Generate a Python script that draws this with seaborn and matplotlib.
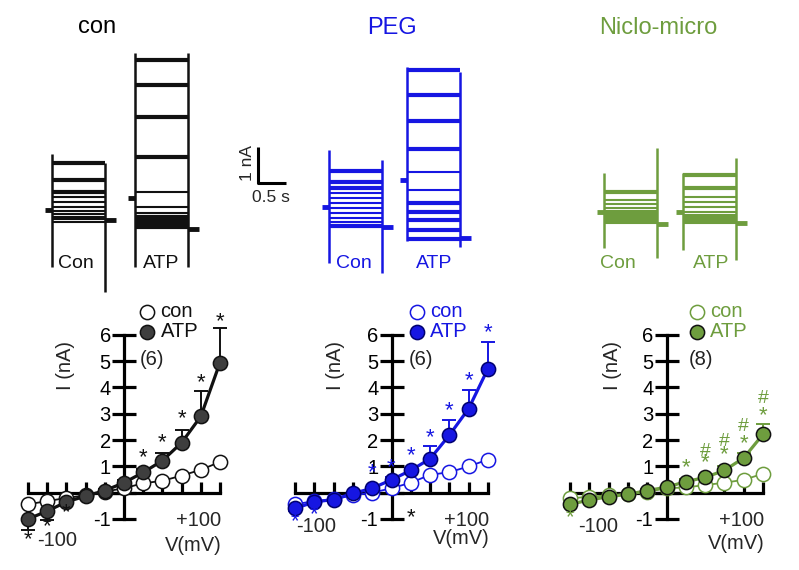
import numpy as np
import pandas as pd
import matplotlib
matplotlib.use('Agg')
import matplotlib.pyplot as plt
import seaborn as sns

sns.set_theme(style='white')
plt.rcParams['font.family'] = ['Liberation Sans', 'DejaVu Sans']
plt.rcParams['axes.unicode_minus'] = False

W, H = 799, 570
BLACK = '#111111'
BLUE = '#1616e2'
GREEN = '#6e9d3e'
DARK = '#3e3e3e'

# I-V data (mV, nA)
volts = [-100, -80, -60, -40, -20, 0, 20, 40, 60, 80, 100]

con_con = [-0.44, -0.32, -0.2, -0.1, 0.04, 0.17, 0.36, 0.45, 0.65, 0.87, 1.17]
con_atp = [-1.0, -0.7, -0.35, -0.13, 0.08, 0.38, 0.77, 1.22, 1.9, 2.9, 4.95]
con_err = [0.4, 0.35, 0.1, 0.05, 0.05, 0.1, 0.15, 0.3, 0.5, 0.95, 1.3]

peg_con = [-0.44, -0.32, -0.25, -0.1, 0.0, 0.17, 0.38, 0.68, 0.78, 1.0, 1.26]
peg_atp = [-0.6, -0.35, -0.26, -0.03, 0.17, 0.49, 0.85, 1.29, 2.19, 3.2, 4.72]
peg_err = [0.1, 0.1, 0.05, 0.05, 0.05, 0.1, 0.1, 0.48, 0.58, 0.7, 1.0]

nic_con = [-0.22, -0.15, -0.1, -0.05, 0.03, 0.17, 0.2, 0.29, 0.38, 0.49, 0.72]
nic_atp = [-0.44, -0.28, -0.15, -0.06, 0.08, 0.21, 0.42, 0.58, 0.85, 1.32, 2.22]
nic_err = [0.1, 0.05, 0.05, 0.05, 0.05, 0.05, 0.1, 0.1, 0.15, 0.2, 0.4]

# significance marks: voltage, y position, symbol
con_sig_x = [100, 80, 60, 40, 20, -60, -80, -100]
con_sig_y = [6.5, 4.2, 2.8, 1.9, 1.35, -0.77, -1.3, -1.8]
con_sig_t = ['*'] * 8
con_sig_c = [BLACK] * 8

peg_sig_x = [100, 80, 60, 40, 20, 0, -20, -80, -100, 20]
peg_sig_y = [6.07, 4.27, 3.1, 2.1, 1.4, 0.96, 0.77, -0.85, -1.1, -0.96]
peg_sig_t = ['*'] * 10
peg_sig_c = [BLUE] * 9 + [BLACK]

nic_sig_x = [100, 100, 80, 80, 60, 60, 40, 40, 20, -100]
nic_sig_y = [2.92, 3.6, 1.88, 2.5, 1.46, 1.96, 1.15, 1.58, 0.96, -0.96]
nic_sig_t = ['*', '#', '*', '#', '*', '#', '*', '#', '*', '*']
nic_sig_c = [GREEN] * 10

# current traces: steady levels (nA, relative to holding)
p1_con_lv = [1.31, 0.83, 0.5, 0.36, 0.22, 0.08, -0.03, -0.11, -0.19, -0.25, -0.33]
p1_atp_lv = [3.83, 3.14, 2.25, 1.14, 0.17, -0.25, -0.42, -0.53, -0.61, -0.69, -0.81]
p2_con_lv = [1.0, 0.69, 0.53, 0.39, 0.25, 0.11, -0.03, -0.17, -0.31, -0.42, -0.53]
p2_atp_lv = [3.06, 2.36, 1.64, 0.86, 0.22, -0.28, -0.64, -0.89, -1.11, -1.39, -1.64]
p3_con_lv = [0.56, 0.33, 0.22, 0.11, 0.03, -0.03, -0.08, -0.14, -0.19, -0.25, -0.31]
p3_atp_lv = [1.03, 0.67, 0.42, 0.28, 0.14, 0.0, -0.08, -0.14, -0.19, -0.25, -0.31]
# capacitive transients (lo, hi) at step on / off, and tail level
p1_con_tr = [(-1.58, 1.56), (-2.28, 1.31), -0.28]
p1_atp_tr = [(-1.92, 4.03), (-1.92, 4.03), -0.86]
p2_con_tr = [(-1.56, 1.58), (-1.83, 1.31), -0.56]
p2_atp_tr = [(-1.69, 3.14), (-1.86, 3.0), -1.61]
p3_con_tr = [(-1.0, 1.08), (-1.28, 1.78), -0.33]
p3_atp_tr = [(-1.06, 1.08), (-1.33, 1.5), -0.31]
step_dur = 0.95

fig = plt.figure(figsize=(W / 100, H / 100), dpi=100)


def px_axes(x0, y0, sx, sy, xlim, ylim):
    left = x0 + xlim[0] * sx
    width = (xlim[1] - xlim[0]) * sx
    top = y0 - ylim[1] * sy
    height = (ylim[1] - ylim[0]) * sy
    ax = fig.add_axes([left / W, 1 - (top + height) / H, width / W, height / H])
    ax.set_xlim(xlim)
    ax.set_ylim(ylim)
    ax.patch.set_alpha(0)
    return ax


def ftext(x, y, s, **kw):
    fig.text(x / W, 1 - y / H, s, ha='center', va='center', **kw)


TSX, TSY = 56, 36


def trace_block(x0, y0, levels, tr, color):
    ax = px_axes(x0, y0, TSX, TSY, (-0.5, 1.5), (-3, 5))
    ax.axis('off')
    lw = [3.0 if abs(v) > 0.45 else 1.5 for v in levels]
    ax.hlines(levels, 0, step_dur, color=color, lw=lw)
    ax.hlines(0, -0.13, 0, color=color, lw=3.5)
    ax.hlines(tr[2], step_dur, step_dur + 0.2, color=color, lw=3.5)
    ax.vlines(0, tr[0][0], tr[0][1], color=color, lw=1.8)
    ax.vlines(step_dur, tr[1][0], tr[1][1], color=color, lw=1.8)
    return ax


trace_block(52, 210, p1_con_lv, p1_con_tr, BLACK)
trace_block(135, 198, p1_atp_lv, p1_atp_tr, BLACK)
trace_block(329, 207, p2_con_lv, p2_con_tr, BLUE)
trace_block(407, 180, p2_atp_lv, p2_atp_tr, BLUE)
trace_block(604, 212, p3_con_lv, p3_con_tr, GREEN)
trace_block(683, 212, p3_atp_lv, p3_atp_tr, GREEN)

# scale bar
sb = px_axes(258, 183, TSX, TSY, (-0.5, 1.0), (-1, 2))
sb.axis('off')
sb.plot([0, 0, 0.5], [1, 0, 0], color='black', lw=2.2, solid_capstyle='butt')
ftext(247, 163, '1 nA', fontsize=12.5, rotation=90)
ftext(271, 197, '0.5 s', fontsize=12.5)

ftext(97, 27, 'con', fontsize=17, color='black')
ftext(392, 28, 'PEG', fontsize=17, color=BLUE)
ftext(658, 28, 'Niclo-micro', fontsize=17, color=GREEN)

for x, y, s, c in [(76, 263, 'Con', BLACK), (161, 264, 'ATP', BLACK),
                   (354, 263, 'Con', BLUE), (434, 263, 'ATP', BLUE),
                   (618, 263, 'Con', GREEN), (711, 263, 'ATP', GREEN)]:
    ftext(x, y, s, fontsize=14, color=c)


def iv_panel(x0, sx, con, atp, err, col, fill, edge, lcol, n, sigs, ylab_x, lo_lab):
    ax = px_axes(x0, 492.7, sx, 26.3, (-118, 118), (-2.4, 7.4))
    sns.lineplot(x=volts, y=con, color=lcol, lw=1.3, ax=ax, zorder=3)
    sns.lineplot(x=volts, y=atp, color=lcol, lw=2.3, ax=ax, zorder=3)
    up = [e if a >= 0 else 0 for a, e in zip(atp, err)]
    dn = [e if a < 0 else 0 for a, e in zip(atp, err)]
    ax.errorbar(volts, atp, yerr=[dn, up], fmt='none', ecolor=lcol,
                elinewidth=1.4, capsize=5, capthick=1.4, zorder=3)
    sns.scatterplot(x=volts, y=con, s=105, color='white', edgecolor=col,
                    linewidth=1.1, ax=ax, zorder=4, label='con')
    sns.scatterplot(x=volts, y=atp, s=105, color=fill, edgecolor=edge,
                    linewidth=1.1, ax=ax, zorder=5, label='ATP')
    for sp in ['top', 'right']:
        ax.spines[sp].set_visible(False)
    ax.spines['left'].set_position(('data', 0))
    ax.spines['bottom'].set_position(('data', 0))
    ax.spines['left'].set_bounds(-1, 6)
    ax.spines['bottom'].set_bounds(-100, 100)
    for sp in ['left', 'bottom']:
        ax.spines[sp].set_linewidth(2.3)
        ax.spines[sp].set_color('black')
        ax.spines[sp].set_zorder(2)
    ax.set_yticks(range(-1, 7))
    ax.set_xticks(range(-100, 101, 20))
    ax.tick_params(axis='y', direction='inout', length=17, width=2.3,
                   labelsize=14.5, pad=1, left=True, colors='black')
    ax.tick_params(axis='x', direction='in', length=8, width=2.3,
                   labelbottom=False, bottom=True, colors='black')
    ax.set_axisbelow(True)
    ax.set_xlabel('')
    ax.set_ylabel('')
    ax.legend(loc='upper left', frameon=False, fontsize=14.5,
              handlelength=0.8, handletextpad=0.25, borderpad=0,
              labelspacing=0.05, borderaxespad=0, labelcolor=lcol,
              bbox_to_anchor=(n[1], 7.25), bbox_transform=ax.transData)
    ax.text(n[1] + 13, 5.05, '(%d)' % n[0], fontsize=14.5, ha='center', va='center',
            color='#222222')
    for x, y, s, c in zip(*sigs):
        ax.text(x, y, s, fontsize=16 if s == '*' else 14, ha='center',
                va='center', color=c, zorder=6)
    ax.text(ylab_x, 4.85, 'I (nA)', rotation=90, fontsize=14.5, ha='center',
            va='center')
    ax.text(101, -1.05, '+100', fontsize=14.5, ha='right', va='center')
    ax.text(102, lo_lab[2], 'V(mV)', fontsize=14.5, ha='right', va='center')
    ax.text(lo_lab[0], lo_lab[1], '-100', fontsize=14.5, ha='center', va='center')
    return ax


iv_panel(124, 0.96, con_con, con_atp, con_err, BLACK, DARK, BLACK, BLACK, (6, 16),
         (con_sig_x, con_sig_y, con_sig_t, con_sig_c), -61, (-70, -1.8, -2.0))
iv_panel(391.5, 0.965, peg_con, peg_atp, peg_err, BLUE, BLUE, '#000070', BLUE, (6, 18),
         (peg_sig_x, peg_sig_y, peg_sig_t, peg_sig_c), -58.5, (-78, -1.3, -1.75))
iv_panel(666.5, 0.965, nic_con, nic_atp, nic_err, GREEN, GREEN, BLACK, GREEN, (8, 23),
         (nic_sig_x, nic_sig_y, nic_sig_t, nic_sig_c), -56, (-71, -1.3, -1.92))

fig.savefig('out.png', dpi=100)
